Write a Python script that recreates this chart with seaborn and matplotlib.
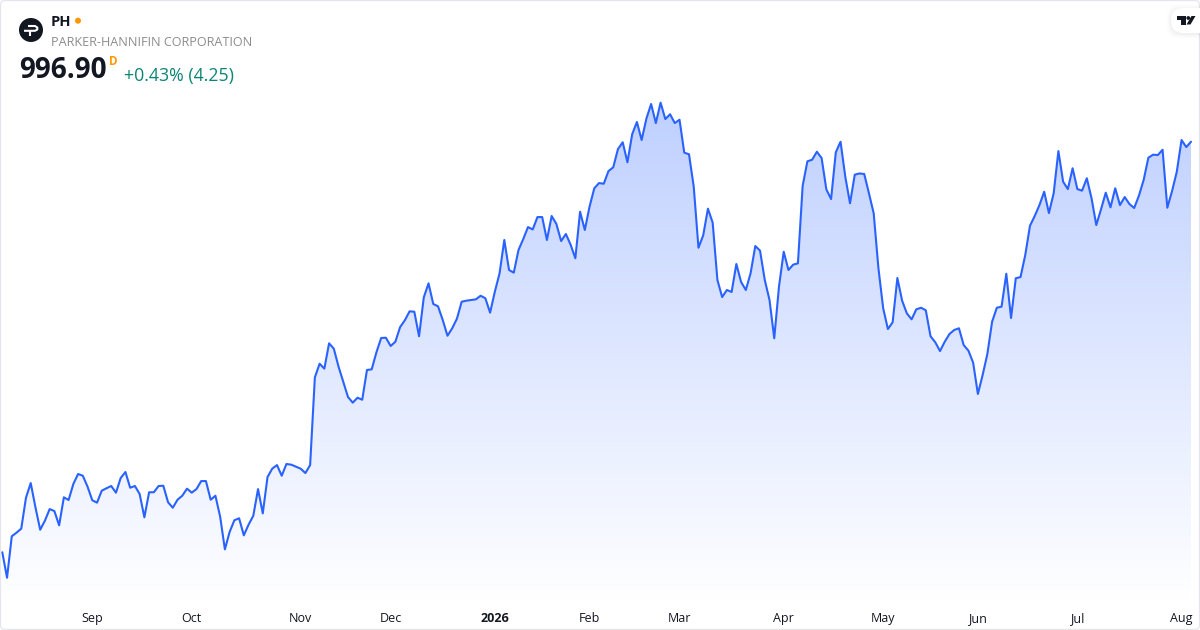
import numpy as np
import pandas as pd
import seaborn as sns
import matplotlib.pyplot as plt
from matplotlib.patches import Circle, FancyBboxPatch, Polygon
from matplotlib.colors import LinearSegmentedColormap

ticker = 'PH'
company = 'PARKER-HANNIFIN CORPORATION'
last_price = '996.90'
change_text = '+0.43% (4.25)'

# daily closes
closes = [
    689.0, 669.9, 701.0, 703.7, 706.7, 729.9, 740.9, 722.7, 705.9, 712.7,
    721.4, 719.9, 709.2, 730.2, 728.2, 740.2, 747.7, 746.4, 738.2, 728.0,
    726.2, 735.2, 737.0, 738.7, 733.7, 744.7, 749.2, 737.4, 738.7, 732.7,
    715.2, 734.0, 734.0, 738.7, 738.9, 726.5, 722.4, 728.4, 731.4, 736.7,
    733.7, 736.4, 742.4, 742.4, 728.4, 731.4, 715.7, 691.2, 704.2, 713.0,
    714.5, 701.7, 709.7, 716.4, 736.4, 718.2, 745.4, 751.7, 754.4, 746.4,
    755.2, 754.7, 753.2, 751.7, 748.4, 754.4, 820.2, 830.4, 826.7, 845.7,
    841.7, 828.2, 816.9, 805.4, 801.2, 804.9, 803.4, 825.7, 826.2, 839.0,
    849.7, 849.9, 843.7, 846.9, 857.9, 863.0, 869.7, 869.4, 851.0, 880.2,
    890.7, 875.2, 873.5, 863.2, 851.4, 857.0, 864.2, 876.9, 877.7, 878.2,
    878.7, 881.4, 879.5, 868.7, 884.4, 898.2, 923.2, 900.7, 898.7, 915.7,
    923.9, 932.9, 931.1, 940.4, 940.4, 923.2, 941.2, 935.2, 922.4, 927.7,
    919.7, 909.5, 944.4, 930.7, 948.2, 962.0, 965.9, 965.4, 974.9, 977.7,
    991.4, 996.5, 981.5, 1002.5, 1011.7, 998.2, 1014.2, 1025.2, 1010.9, 1026.2,
    1013.9, 1017.5, 1010.9, 1013.4, 988.7, 987.5, 963.2, 917.4, 926.7, 946.7,
    936.2, 893.2, 880.4, 885.7, 884.2, 905.2, 891.7, 885.7, 898.2, 918.7,
    915.2, 893.2, 878.2, 849.5, 888.2, 914.4, 900.7, 904.7, 905.7, 963.9,
    982.2, 983.4, 989.4, 984.7, 961.2, 953.9, 989.0, 996.9, 970.7, 950.7,
    972.2, 973.1, 972.7, 958.2, 943.2, 902.0, 872.0, 856.4, 861.5, 894.7,
    877.7, 868.2, 863.7, 871.2, 872.4, 870.5, 851.0, 846.5, 839.9, 846.9,
    852.7, 855.7, 857.0, 844.4, 840.2, 831.2, 807.7, 821.9, 837.7, 861.9,
    872.4, 873.2, 897.9, 864.7, 894.5, 895.4, 911.9, 933.9, 941.2, 949.4,
    959.4, 943.4, 958.2, 989.9, 966.9, 961.4, 977.0, 961.4, 960.2, 969.5,
    954.5, 934.4, 946.2, 958.7, 947.7, 962.0, 949.4, 955.4, 950.2, 947.2,
    956.4, 968.2, 984.9, 987.2, 986.9, 990.9, 947.4, 959.9, 974.4, 998.2,
    992.9, 996.9,
]

# first trading session of each month
tick_sessions = [19, 40, 63, 82, 104, 124, 143, 165, 186, 206, 227, 249]
tick_labels = ['Sep', 'Oct', 'Nov', 'Dec', '2026', 'Feb', 'Mar', 'Apr', 'May', 'Jun', 'Jul', 'Aug']

df = pd.DataFrame({'session': range(len(closes)), 'close': closes})

sns.set_theme(style='white')
plt.rcParams['font.family'] = ['Open Sans', 'DejaVu Sans']

fig = plt.figure(figsize=(12, 6.3), dpi=100)
# price pane, with the time scale in the strip below it
ax = fig.add_axes([0, 28 / 630, 1, 602 / 630])
y_low, y_high = 651.7, 1103.2
x_low, x_high = -0.486, 252.9

# area under the line, fading towards the bottom
fade = LinearSegmentedColormap.from_list('fade', ['#BFD0FF', '#FFFFFF'])
grad = ax.imshow(np.linspace(0, 1, 256).reshape(-1, 1), cmap=fade, aspect='auto',
                 extent=[0, len(closes) - 1, y_low, df['close'].max()],
                 origin='upper', zorder=1)
area = ax.fill_between(df['session'], df['close'], y_low, color='none', linewidth=0)
grad.set_clip_path(area.get_paths()[0], ax.transData)

sns.lineplot(data=df, x='session', y='close', color='#2962FF', linewidth=1.5, ax=ax, zorder=3)
ax.set_xlim(x_low, x_high)
ax.set_ylim(y_low, y_high)

ax.set_xlabel('')
ax.set_ylabel('')
ax.set_yticks([])
ax.set_xticks(tick_sessions)
ax.set_xticklabels(tick_labels)
ax.tick_params(axis='x', length=0, pad=14.4, labelsize=9, labelcolor='#131722')
for lab in ax.get_xticklabels():
    lab.set_verticalalignment('baseline')
    if lab.get_text() == '2026':
        lab.set_fontweight('bold')
for s in ax.spines.values():
    s.set_visible(False)

# everything else is placed in pixels of the 1200x630 card
ov = fig.add_axes([0, 0, 1, 1], zorder=5)
ov.set_xlim(0, 1200)
ov.set_ylim(630, 0)
ov.axis('off')

ov.add_patch(FancyBboxPatch((0.5, 0.5), 1199, 629, boxstyle='round,pad=0,rounding_size=5',
                            fc='none', ec='#E4E6EB', lw=0.9))

# symbol logo
ov.add_patch(Circle((31, 30), 12, fc='#131722', ec='none'))
ov.plot([28, 35, 37.3, 37.3, 35, 24], [26, 26, 27.5, 29.5, 30.8, 30.8], color='white', lw=1.5,
        solid_capstyle='butt', solid_joinstyle='round')
ov.plot([29.7, 29.7], [31, 36], color='white', lw=1.5, solid_capstyle='butt')

ov.text(51, 22, ticker, fontsize=10.5, fontweight='bold', color='#131722', va='center', ha='left')
ov.add_patch(Circle((78, 20.7), 3, fc='#FF9800', ec='none'))
ov.text(51, 42, company, fontsize=9.08, color='#8C8C8C', va='center', ha='left')
ov.text(19, 71, last_price, fontsize=20.1, fontweight='bold', color='#131722', va='center', ha='left')
ov.text(109, 61.5, 'D', fontsize=8.4, fontweight='bold', color='#FF9800', va='center', ha='left')
ov.text(124, 75.5, change_text, fontsize=12.8, color='#0C8573', va='center', ha='left')

# TradingView badge
for off, alpha in zip([8, 5, 2], [0.012, 0.018, 0.025]):
    ov.add_patch(FancyBboxPatch((1171 - off / 2, 8 - off / 2 + 1), 60 + off, 25 + off,
                                boxstyle='round,pad=0,rounding_size=12', fc='#131722',
                                ec='none', alpha=alpha, clip_on=True))
ov.add_patch(FancyBboxPatch((1171, 8), 60, 25, boxstyle='round,pad=0,rounding_size=12',
                            fc='white', ec='none', clip_on=True))
ov.add_patch(Polygon([(1177, 16), (1185.5, 16), (1185.5, 24.5), (1181, 24.5), (1181, 19.5), (1177, 19.5)],
                     fc='#131722', ec='none'))
ov.add_patch(Circle((1188.3, 18), 1.9, fc='#131722', ec='none'))
ov.add_patch(Polygon([(1191.5, 16), (1195.5, 16), (1190.5, 24.5), (1186.5, 24.5)], fc='#131722', ec='none'))

fig.savefig('out.png', dpi=100, facecolor='white')
